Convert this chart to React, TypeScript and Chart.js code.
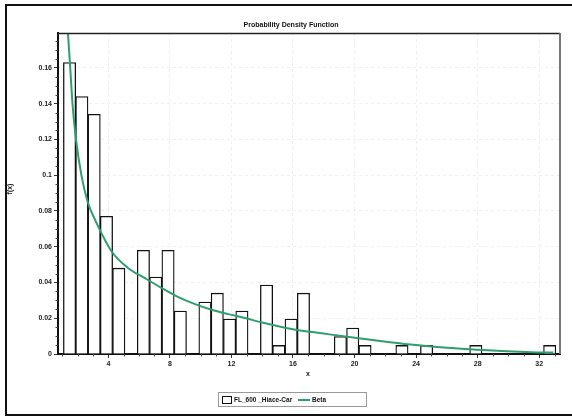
import React, { useEffect, useRef } from 'react';
import { Chart, registerables } from 'chart.js';

Chart.register(...registerables);

// Histogram bins (centres, width 0.8) and their density values
const binCenters = [
  1.48, 2.28, 3.08, 3.88, 4.68, 5.48, 6.28, 7.08, 7.88, 8.68,
  9.48, 10.28, 11.08, 11.88, 12.68, 13.48, 14.28, 15.08, 15.88, 16.68,
  17.48, 18.28, 19.08, 19.88, 20.68, 21.48, 22.28, 23.08, 23.88, 24.68,
  25.48, 26.28, 27.08, 27.88, 28.68, 29.48, 30.28, 31.08, 31.88, 32.68,
];
const density = [
  0.163, 0.144, 0.134, 0.077, 0.048, 0, 0.058, 0.043, 0.058, 0.024,
  0, 0.029, 0.034, 0.0195, 0.024, 0, 0.0385, 0.0048, 0.0195, 0.034,
  0, 0, 0.0098, 0.0145, 0.0048, 0, 0, 0.0048, 0, 0.0048,
  0, 0, 0, 0.0048, 0, 0, 0, 0, 0, 0.0048,
];

// Fitted Beta density
const betaX = [
  1.3, 1.38, 1.51, 1.68, 1.9, 2.25, 2.66, 3.14, 4.22, 5.3, 6.38, 7.47, 8.55,
  9.63, 10.72, 11.8, 12.88, 14.0, 16.0, 18.0, 20.15, 22.3, 24.0, 26.0, 28.0, 29.9, 31.5, 32.92,
];
const betaY = [
  0.19, 0.179, 0.162, 0.139, 0.12, 0.1, 0.085, 0.075, 0.0573, 0.048, 0.0424, 0.0369, 0.0318,
  0.0279, 0.0247, 0.0223, 0.0201, 0.0176, 0.0138, 0.0114, 0.0089, 0.0066, 0.005, 0.0035, 0.0024, 0.0015, 0.001, 0.0008,
];

const xTicks = [4, 8, 12, 16, 20, 24, 28, 32];
const yTicks = [0, 0.02, 0.04, 0.06, 0.08, 0.1, 0.12, 0.14, 0.16];
const xMinorStep = 1;
const yMinorStep = 0.005;

const seriesNames = ['FL_600 _Hiace-Car', 'Beta'];
const titleText = 'Probability Density Function';
const xTitle = 'x';
const yTitle = 'f(x)';

const FONT = '"Liberation Sans", Arial, sans-serif';
const GREEN = '#2e9e6e';

const decorPlugin = {
  id: 'decor',
  afterDraw(chart: any) {
    const ctx = chart.ctx as CanvasRenderingContext2D;
    const { left, right, top, bottom } = chart.chartArea;
    const xs = chart.scales.x;
    const ys = chart.scales.y;
    ctx.save();

    // plot frame top/right
    ctx.strokeStyle = '#222';
    ctx.lineWidth = 1.5;
    ctx.beginPath();
    ctx.moveTo(left, top + 0.5);
    ctx.lineTo(right, top + 0.5);
    ctx.stroke();
    ctx.strokeStyle = '#777';
    ctx.lineWidth = 2;
    ctx.beginPath();
    ctx.moveTo(right, top);
    ctx.lineTo(right, bottom);
    ctx.stroke();

    // minor ticks
    ctx.strokeStyle = '#444';
    ctx.lineWidth = 1;
    ctx.beginPath();
    for (let v = Math.ceil(xs.min); v <= xs.max; v += xMinorStep) {
      if (xTicks.includes(v)) continue;
      const px = Math.round(xs.getPixelForValue(v)) + 0.5;
      ctx.moveTo(px, bottom);
      ctx.lineTo(px, bottom + 2.5);
    }
    for (let i = 0; i * yMinorStep <= ys.max; i++) {
      if (i % 4 === 0) continue;
      const py = Math.round(ys.getPixelForValue(i * yMinorStep)) + 0.5;
      ctx.moveTo(left, py);
      ctx.lineTo(left - 2.5, py);
    }
    ctx.stroke();

    // outer frame (left, top, bottom)
    ctx.strokeStyle = '#111';
    ctx.lineWidth = 2;
    ctx.beginPath();
    ctx.moveTo(590, 5);
    ctx.lineTo(6, 5);
    ctx.lineTo(6, 415);
    ctx.lineTo(590, 415);
    ctx.stroke();

    // title
    ctx.fillStyle = '#111';
    ctx.font = `bold 7px ${FONT}`;
    ctx.textAlign = 'center';
    ctx.textBaseline = 'middle';
    ctx.fillText(titleText, 291, 25);

    // axis titles
    ctx.fillText(xTitle, 308, 374);
    ctx.save();
    ctx.translate(10, 189);
    ctx.rotate(-Math.PI / 2);
    ctx.fillText(yTitle, 0, 0);
    ctx.restore();

    // legend
    ctx.strokeStyle = '#9a9a9a';
    ctx.lineWidth = 1;
    ctx.strokeRect(218.5, 392.5, 148, 14);
    ctx.fillStyle = '#fff';
    ctx.strokeStyle = '#111';
    ctx.fillRect(222.5, 396.5, 9, 7);
    ctx.strokeRect(222.5, 396.5, 9, 7);
    ctx.fillStyle = '#111';
    ctx.font = `bold 6.5px ${FONT}`;
    ctx.textAlign = 'left';
    ctx.fillText(seriesNames[0], 234, 400);
    ctx.strokeStyle = GREEN;
    ctx.lineWidth = 2;
    ctx.beginPath();
    ctx.moveTo(298, 400);
    ctx.lineTo(310, 400);
    ctx.stroke();
    ctx.fillText(seriesNames[1], 312, 400);

    ctx.restore();
  },
};

export default function App() {
  const ref = useRef<HTMLCanvasElement>(null);

  useEffect(() => {
    const canvas = ref.current;
    if (!canvas) return;
    const tickFont = { family: FONT, size: 7, weight: 'bold' as const };
    const chart = new Chart(canvas, {
      type: 'bar',
      data: {
        datasets: [
          {
            type: 'line',
            label: seriesNames[1],
            data: betaX.map((x, i) => ({ x, y: betaY[i] })),
            borderColor: GREEN,
            borderWidth: 2,
            pointRadius: 0,
            cubicInterpolationMode: 'monotone',
            fill: false,
            order: 0,
          } as any,
          {
            type: 'bar',
            label: seriesNames[0],
            data: binCenters.map((x, i) => ({ x, y: density[i] })),
            backgroundColor: '#ffffff',
            borderColor: '#111111',
            borderWidth: 1.3,
            barPercentage: 1,
            categoryPercentage: 1,
            grouped: false,
            order: 1,
          } as any,
        ],
      },
      options: {
        responsive: false,
        animation: false,
        devicePixelRatio: 1,
        layout: { padding: { left: 8, top: 33, right: 12, bottom: 42 } },
        plugins: {
          legend: { display: false },
          title: { display: false },
          tooltip: { enabled: false },
        },
        scales: {
          x: {
            type: 'linear',
            offset: false,
            min: 0.73,
            max: 33.35,
            afterBuildTicks: (s: any) => {
              s.ticks = xTicks.map((v) => ({ value: v }));
            },
            afterFit: (s: any) => {
              s.height = 20;
            },
            ticks: {
              font: tickFont,
              color: '#222',
              padding: 2,
              maxRotation: 0,
              autoSkip: false,
              callback: (v: any) => String(v),
            },
            grid: {
              offset: false,
              color: '#efefef',
              tickColor: '#333',
              tickLength: 4,
              lineWidth: 1,
            },
            border: { color: '#111', width: 2, dash: [3, 3] },
          },
          y: {
            type: 'linear',
            min: 0,
            max: 0.1795,
            afterBuildTicks: (s: any) => {
              s.ticks = yTicks.map((v) => ({ value: v }));
            },
            afterFit: (s: any) => {
              s.width = 50;
            },
            ticks: {
              font: tickFont,
              color: '#222',
              padding: 2,
              autoSkip: false,
              callback: (v: any) => String(v),
            },
            grid: {
              color: '#efefef',
              tickColor: '#333',
              tickLength: 4,
              lineWidth: 1,
            },
            border: { color: '#111', width: 2, dash: [3, 3] },
          },
        },
      } as any,
      plugins: [decorPlugin],
    });
    return () => chart.destroy();
  }, []);

  return (
    <div style={{ position: 'fixed', left: 0, top: 0, width: 572, height: 416, background: '#fff' }}>
      <canvas ref={ref} width={572} height={416} />
    </div>
  );
}
